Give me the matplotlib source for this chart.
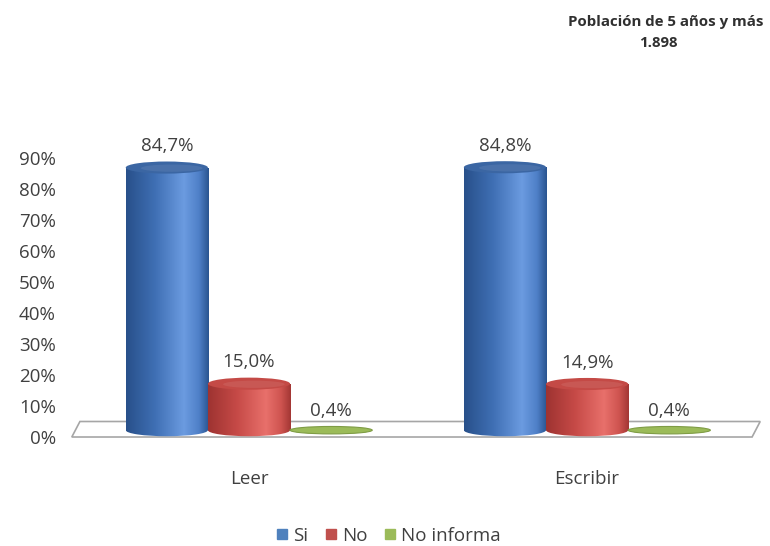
import numpy as np
import matplotlib
matplotlib.use("Agg")
import matplotlib.pyplot as plt
from matplotlib.patches import Rectangle, Ellipse, Polygon
from matplotlib.colors import LinearSegmentedColormap
from matplotlib.lines import Line2D

categories = ["Leer", "Escribir"]
series = ["Si", "No", "No informa"]
values = {
    "Si": [84.7, 84.8],
    "No": [15.0, 14.9],
    "No informa": [0.4, 0.4],
}
labels = {
    "Si": ["84,7%", "84,8%"],
    "No": ["15,0%", "14,9%"],
    "No informa": ["0,4%", "0,4%"],
}
yticks = [0, 10, 20, 30, 40, 50, 60, 70, 80, 90]
title_lines = ["Población de 5 años y más", "1.898"]

FONT = ["Open Sans", "DejaVu Sans"]
plt.rcParams["font.family"] = FONT
FS = 13.5

fig = plt.figure(figsize=(7.7, 5.46), dpi=100)
ax = fig.add_axes([62 / 770, 80 / 546, 708 / 770, 340 / 546])
ax.set_xlim(-0.553, 1.541)
ax.set_ylim(-9.35, 100.3)
for s in ax.spines.values():
    s.set_visible(False)
ax.set_xticks([])
ax.set_yticks(yticks)
ax.set_yticklabels([f"{t}%" for t in yticks], fontsize=FS, color="#404040")
ax.tick_params(axis="y", length=0, pad=4.5)

# floor
floor = Polygon([(-0.5, 5.0), (1.512, 5.0), (1.488, 0.0), (-0.524, 0.0)],
                closed=True, facecolor="white", edgecolor="#a6a6a6", lw=1.2, zorder=1)
ax.add_patch(floor)

cmaps = {
    "Si": (LinearSegmentedColormap.from_list("b", [(0, "#28508a"), (0.35, "#3f6fb4"), (0.7, "#6b9be0"), (0.88, "#4f80c8"), (1, "#2a5590")]), "#3b66a3"),
    "No": (LinearSegmentedColormap.from_list("r", [(0, "#9e3331"), (0.35, "#c64a47"), (0.7, "#e8706b"), (0.88, "#cf5450"), (1, "#a33634")]), "#c44a46"),
    "No informa": (LinearSegmentedColormap.from_list("g", [(0, "#748f3c"), (0.5, "#9bbb59"), (1, "#7d9a42")]), "#8fb04c"),
}

width = 0.243
base = 2.2
eh = 3.9
grad = np.linspace(0, 1, 256).reshape(1, -1)

for i, cat in enumerate(categories):
    for j, s in enumerate(series):
        xc = i + (j - 1) * width
        x0, x1 = xc - width / 2, xc + width / 2
        v = values[s][i]
        top = base + v
        cmap, topcol = cmaps[s]
        if v > 1:
            e_b = Ellipse((xc, base), width, eh, transform=ax.transData)
            im = ax.imshow(grad, cmap=cmap, aspect="auto", extent=(x0, x1, base - eh, top), zorder=3)
            im.set_clip_path(e_b)
            r = Rectangle((x0, base), width, v, transform=ax.transData)
            im2 = ax.imshow(grad, cmap=cmap, aspect="auto", extent=(x0, x1, base - eh, top), zorder=3)
            im2.set_clip_path(r)
            e_t = Ellipse((xc, top), width, eh, facecolor=topcol, edgecolor="none", zorder=4)
            ax.add_patch(e_t)
            e_t2 = Ellipse((xc + width * 0.06, top - eh * 0.05), width * 0.75, eh * 0.6,
                           facecolor="white", alpha=0.08, edgecolor="none", zorder=4)
            ax.add_patch(e_t2)
            ty = top + eh / 2 + 2.0
        else:
            e = Ellipse((xc, base), width, 2.4, facecolor="#9bbb59", edgecolor="#7f9c45", lw=0.8, zorder=3)
            ax.add_patch(e)
            ty = base + 3.2
        ax.text(xc, ty, labels[s][i], ha="center", va="bottom", fontsize=FS,
                color="#404040", zorder=5)

ax.set_ylim(-9.35, 100.3)
ax.set_xlim(-0.553, 1.541)

for i, cat in enumerate(categories):
    ax.text(i, -13.5, cat, ha="center", va="center", fontsize=FS, color="#404040", clip_on=False)

fig.text(666 / 770, 1 - 22 / 546, title_lines[0], ha="center", va="center",
         fontsize=10.8, fontweight="bold", color="#303030")
fig.text(658 / 770, 1 - 43 / 546, title_lines[1], ha="center", va="center",
         fontsize=10.8, fontweight="bold", color="#303030")

handles = [Line2D([], [], marker="s", ls="none", markersize=7, color=c)
           for c in ["#4f81bd", "#c0504d", "#9bbb59"]]
fig.legend(handles, series, loc="center", bbox_to_anchor=(386 / 770, 1 - 536 / 546),
           ncol=3, frameon=False, fontsize=FS, handletextpad=0.0, columnspacing=0.6,
           handlelength=1.2, labelcolor="#404040")

fig.savefig("out.png", dpi=100, facecolor="white")
